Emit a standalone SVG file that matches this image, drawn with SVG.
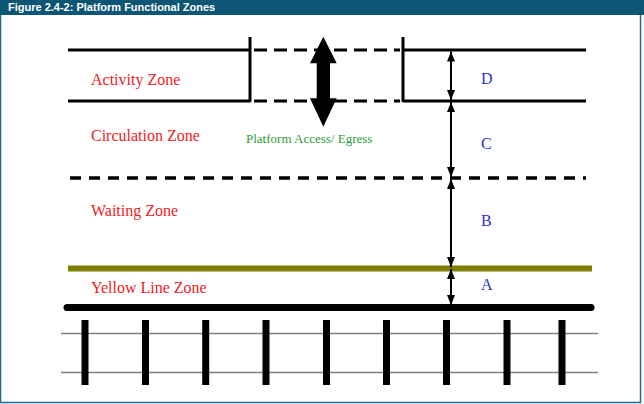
<svg xmlns="http://www.w3.org/2000/svg" width="644" height="404" viewBox="0 0 644 404">
<defs>
<style>
.ln{stroke:#000;stroke-width:3;fill:none}
.dash{stroke:#000;stroke-width:3;fill:none;stroke-dasharray:13 7}
.dash2{stroke:#000;stroke-width:3.5;fill:none;stroke-dasharray:11 8}
.tie{stroke:#000;stroke-width:7}
.rail{stroke:#808080;stroke-width:1.3}
.zone{font-family:"Liberation Serif","Times New Roman",serif;font-size:16px;fill:#ee1c24}
.let{font-family:"Liberation Serif","Times New Roman",serif;font-size:16px;fill:#2f2fd8}
.dim{stroke:#000;stroke-width:2;fill:none;marker-start:url(#ah);marker-end:url(#ah)}
</style>
<marker id="ah" viewBox="0 0 10 8" refX="10" refY="4" markerWidth="10" markerHeight="8" markerUnits="userSpaceOnUse" orient="auto-start-reverse">
<path d="M0,0 L10,4 L0,8 z" fill="#000"/>
</marker>
</defs>
<rect x="0" y="0" width="644" height="404" fill="#fff"/>
<rect x="0.5" y="0.5" width="640" height="402" fill="none" stroke="#1f6a8a" stroke-width="1.5"/>
<rect x="0" y="0" width="644" height="15" fill="#0d5574"/>
<text x="8" y="11" font-family="Liberation Sans,Arial,sans-serif" font-size="11" font-weight="bold" fill="#fff">Figure 2.4-2: Platform Functional Zones</text>

<g id="activity-zone">
<line class="ln" x1="68" y1="50" x2="250" y2="50"/>
<line class="dash" x1="254" y1="50" x2="400" y2="50"/>
<line class="ln" x1="403" y1="50" x2="586" y2="50"/>
<line class="ln" x1="68" y1="101" x2="250" y2="101"/>
<line class="dash" x1="254" y1="101" x2="400" y2="101"/>
<line class="ln" x1="403" y1="101" x2="586" y2="101"/>
<line class="ln" x1="250" y1="37" x2="250" y2="102"/>
<line class="ln" x1="403" y1="37" x2="403" y2="102"/>
<text class="zone" x="91" y="85">Activity Zone</text>
</g>

<g id="access">
<path d="M323.3,36.7 L336.7,63.3 L330,63.3 L330,98.3 L336.7,98.3 L323.3,126.7 L310,98.3 L316.7,98.3 L316.7,63.3 L310,63.3 z" fill="#000"/>
<text x="246" y="143" font-family="Liberation Serif,Times New Roman,serif" font-size="13" fill="#2e9a3a">Platform Access/ Egress</text>
</g>

<g id="circulation-zone">
<text class="zone" x="91" y="141">Circulation Zone</text>
<line class="dash2" x1="70" y1="178" x2="586" y2="178"/>
</g>

<g id="waiting-zone">
<text class="zone" x="91" y="216">Waiting Zone</text>
</g>

<g id="yellow-line-zone">
<line x1="68" y1="268.5" x2="592" y2="268.5" stroke="#808000" stroke-width="6"/>
<text class="zone" x="91" y="293">Yellow Line Zone</text>
</g>

<g id="platform-edge">
<line x1="67" y1="307.5" x2="591" y2="307.5" stroke="#000" stroke-width="7" stroke-linecap="round"/>
</g>

<g id="track">
<line class="rail" x1="61" y1="333.5" x2="598" y2="333.5"/>
<line class="rail" x1="61" y1="372.5" x2="598" y2="372.5"/>
<line class="tie" x1="85" y1="320" x2="85" y2="385"/>
<line class="tie" x1="145.5" y1="320" x2="145.5" y2="385"/>
<line class="tie" x1="205.7" y1="320" x2="205.7" y2="385"/>
<line class="tie" x1="266" y1="320" x2="266" y2="385"/>
<line class="tie" x1="326.5" y1="320" x2="326.5" y2="385"/>
<line class="tie" x1="386.5" y1="320" x2="386.5" y2="385"/>
<line class="tie" x1="446.5" y1="320" x2="446.5" y2="385"/>
<line class="tie" x1="507" y1="320" x2="507" y2="385"/>
<line class="tie" x1="562" y1="320" x2="562" y2="385"/>
</g>

<g id="connectors">
<line class="dim" x1="451" y1="51.5" x2="451" y2="100"/>
<line class="dim" x1="451" y1="102" x2="451" y2="177"/>
<line class="dim" x1="451" y1="179" x2="451" y2="267"/>
<line class="dim" x1="451" y1="269" x2="451" y2="305"/>
</g>

<g id="labels">
<text class="let" x="481" y="84">D</text>
<text class="let" x="481" y="149">C</text>
<text class="let" x="481" y="226">B</text>
<text class="let" x="481" y="290">A</text>
</g>
</svg>
